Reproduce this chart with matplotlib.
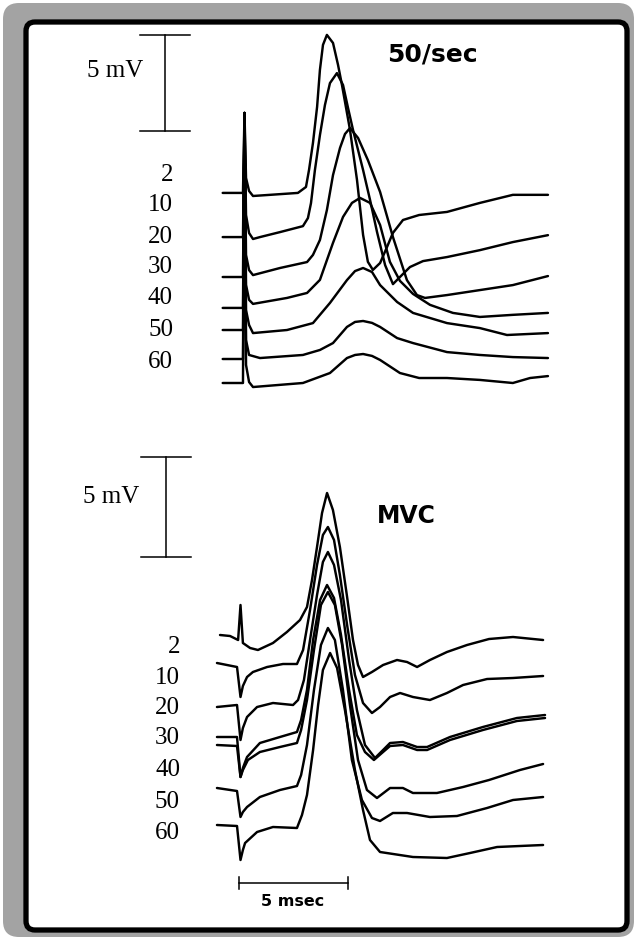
import numpy as np
import matplotlib.pyplot as plt
from matplotlib.patches import FancyBboxPatch

# ---- stimulus numbers (train position of each recorded response)
stim_labels = ["2", "10", "20", "30", "40", "50", "60"]

# ---- 50/sec train: time (ms after stimulus) and voltage (mV from own baseline)
top_t_2 = [-1.0, -0.07, 0, 0.07, 0.21, 0.39, 1.17, 2.45, 2.82, 2.96, 3.14, 3.33, 3.46, 3.60, 3.78, 4.06,
           4.29, 4.47, 4.84, 5.16, 5.44, 5.66, 5.89, 6.22, 6.54, 6.81, 7.27, 8.01, 9.29, 10.80, 12.31, 13.92]
top_mv_2 = [0, 0, 4.17, 0.78, 0.10, -0.16, -0.10, 0, 0.31, 1.20, 2.60, 4.48, 6.41, 7.71, 8.23, 7.81,
            6.67, 5.63, 3.28, 0.68, -2.19, -3.59, -4.01, -3.65, -2.81, -2.08, -1.41, -1.15, -0.99, -0.52, -0.10, -0.10]

top_t_10 = [-1.0, -0.07, 0, 0.07, 0.21, 0.39, 0.71, 1.63, 2.68, 2.91, 3.05, 3.23, 3.46, 3.69, 3.92, 4.24,
            4.52, 4.75, 4.98, 5.44, 5.76, 6.08, 6.45, 6.81, 7.13, 7.59, 8.19, 9.29, 10.80, 12.31, 13.92]
top_mv_10 = [0, 0, 6.46, 1.15, 0.21, -0.10, 0, 0.26, 0.57, 0.99, 1.77, 3.49, 5.31, 6.88, 8.02, 8.54,
             7.92, 6.72, 5.57, 3.49, 1.93, 0.26, -1.46, -2.45, -2.08, -1.56, -1.25, -1.04, -0.68, -0.26, 0.10]

top_t_20 = [-1.0, -0.07, 0, 0.07, 0.21, 0.39, 1.63, 2.87, 3.14, 3.46, 3.78, 4.06, 4.38, 4.61, 4.84, 5.21,
            5.66, 6.22, 6.81, 7.45, 7.91, 8.28, 9.29, 10.80, 12.31, 13.92]
top_mv_20 = [0, 0, 8.54, 1.15, 0.36, 0.10, 0.47, 0.78, 1.15, 1.93, 3.49, 5.31, 6.72, 7.45, 7.76, 7.24,
             6.09, 4.43, 2.08, -0.16, -0.94, -1.09, -0.94, -0.68, -0.42, 0.05]

top_t_30 = [-1.0, -0.07, 0, 0.07, 0.21, 0.39, 1.95, 2.87, 3.46, 4.06, 4.52, 4.93, 5.30, 5.76, 6.22, 6.67,
            7.13, 7.73, 8.51, 9.56, 10.80, 12.31, 13.92]
top_mv_30 = [0, 0, 10.16, 1.20, 0.42, 0.21, 0.52, 0.78, 1.46, 3.39, 4.74, 5.47, 5.73, 5.47, 4.32, 2.40,
             1.41, 0.73, 0.16, -0.26, -0.47, -0.36, -0.26]

top_t_40 = [-1.0, -0.07, 0, 0.07, 0.21, 0.39, 1.95, 3.14, 3.92, 4.70, 5.07, 5.44, 5.85, 6.22, 7.00, 7.73,
            9.29, 10.80, 12.04, 13.92]
top_mv_40 = [0, 0, 11.30, 1.04, 0.26, -0.16, 0, 0.36, 1.41, 2.60, 3.07, 3.23, 3.02, 2.34, 1.46, 0.89,
             0.36, 0.10, -0.26, -0.16]

top_t_50 = [-1.0, -0.07, 0, 0.07, 0.21, 0.71, 2.68, 3.46, 4.06, 4.70, 5.07, 5.44, 5.85, 6.22, 7.00, 7.73,
            9.29, 10.80, 12.31, 13.92]
top_mv_50 = [0, 0, 12.81, 0.99, 0.21, 0.05, 0.21, 0.47, 0.83, 1.67, 1.93, 1.98, 1.88, 1.67, 1.09, 0.83,
             0.36, 0.21, 0.10, 0.05]

top_t_60 = [-1.0, -0.07, 0, 0.07, 0.21, 0.39, 2.68, 3.92, 4.70, 5.07, 5.44, 5.85, 6.22, 7.13, 8.01, 9.29,
            10.80, 12.31, 13.10, 13.92]
top_mv_60 = [0, 0, 14.06, 0.94, 0.05, -0.21, 0, 0.52, 1.30, 1.46, 1.51, 1.41, 1.20, 0.52, 0.26, 0.26,
             0.16, 0, 0.26, 0.36]

# ---- MVC: time (ms) and voltage (mV from own baseline)
bot_t_2 = [-0.94, -0.48, -0.11, 0, 0.11, 0.44, 0.80, 1.49, 2.13, 2.73, 3.05, 3.28, 3.51, 3.74, 3.97, 4.24,
           4.56, 4.89, 5.16, 5.39, 5.62, 6.03, 6.54, 7.18, 7.64, 8.10, 8.69, 9.47, 10.39, 11.40, 12.50, 13.88]
bot_mv_2 = [0.10, 0.05, -0.15, 1.60, -0.30, -0.55, -0.65, -0.30, 0.25, 0.85, 1.50, 2.85, 4.50, 6.20, 7.20, 6.35,
            4.50, 2.00, -0.15, -1.40, -2.00, -1.75, -1.40, -1.15, -1.25, -1.50, -1.15, -0.75, -0.40, -0.10, 0, -0.15]

bot_t_10 = [-1.08, -0.16, 0, 0.11, 0.30, 0.57, 1.22, 1.95, 2.59, 2.87, 3.19, 3.51, 3.78, 4.01, 4.29, 4.56,
            4.89, 5.25, 5.62, 6.03, 6.40, 6.86, 7.32, 7.91, 8.69, 9.47, 10.21, 11.31, 12.50, 13.88]
bot_mv_10 = [0, -0.20, -1.70, -1.15, -0.70, -0.45, -0.20, -0.05, -0.05, 0.65, 2.65, 4.90, 6.40, 6.80, 6.15, 4.40,
             1.90, -0.60, -2.00, -2.50, -2.20, -1.70, -1.50, -1.70, -1.85, -1.50, -1.10, -0.80, -0.75, -0.65]

bot_t_20 = [-1.08, -0.16, 0, 0.11, 0.30, 0.76, 1.49, 2.41, 2.64, 2.91, 3.19, 3.51, 3.78, 4.01, 4.29, 4.61,
            4.98, 5.34, 5.71, 6.17, 6.54, 6.86, 7.45, 8.10, 8.56, 9.61, 11.12, 12.68, 13.97]
bot_mv_20 = [-0.10, 0, -1.75, -1.15, -0.60, -0.10, 0.10, 0, 0.25, 1.25, 3.25, 5.50, 7.15, 7.65, 7.00, 5.25,
             2.25, -0.25, -2.00, -2.65, -2.25, -1.90, -1.85, -2.10, -2.10, -1.60, -1.10, -0.65, -0.50]

bot_t_30 = [-1.08, -0.16, 0, 0.11, 0.30, 0.89, 1.81, 2.59, 2.78, 3.05, 3.33, 3.65, 3.97, 4.29, 4.61, 4.98,
            5.34, 5.71, 6.12, 6.54, 6.86, 7.45, 8.10, 8.56, 9.61, 11.12, 12.68, 13.97]
bot_mv_30 = [0, 0, -2.00, -1.55, -1.00, -0.30, 0, 0.25, 0.85, 2.35, 4.85, 6.85, 7.60, 6.95, 5.10, 2.35,
             0.10, -0.75, -1.15, -0.75, -0.45, -0.40, -0.65, -0.65, -0.15, 0.35, 0.80, 0.95]

bot_t_40 = [-1.08, -0.16, 0, 0.11, 0.34, 0.89, 1.81, 2.59, 2.78, 3.05, 3.37, 3.69, 4.01, 4.33, 4.66, 5.02,
            5.39, 5.80, 6.26, 6.86, 7.45, 7.91, 9.01, 10.21, 11.40, 12.82, 13.88]
bot_mv_40 = [0, -0.05, -1.60, -1.25, -0.75, -0.35, -0.10, 0.10, 0.75, 2.25, 4.75, 7.00, 7.65, 7.00, 5.00, 2.00,
             -0.75, -2.25, -2.65, -2.15, -2.15, -2.40, -2.40, -2.10, -1.75, -1.25, -0.95]

bot_t_50 = [-1.08, -0.16, 0, 0.11, 0.30, 0.89, 1.81, 2.59, 2.78, 3.05, 3.37, 3.69, 4.01, 4.33, 4.70, 5.11,
            5.57, 6.03, 6.40, 6.99, 7.64, 8.69, 9.93, 11.31, 12.50, 13.88]
bot_mv_50 = [0, -0.15, -1.45, -1.20, -0.95, -0.45, -0.10, 0.10, 0.65, 2.15, 4.90, 7.15, 8.00, 7.40, 4.90, 1.40,
             -0.60, -1.50, -1.65, -1.25, -1.25, -1.45, -1.40, -1.00, -0.60, -0.45]

bot_t_60 = [-1.08, -0.16, 0, 0.11, 0.21, 0.76, 1.49, 2.59, 2.82, 3.05, 3.33, 3.56, 3.78, 4.11, 4.43, 4.79,
            5.25, 5.62, 5.94, 6.40, 7.91, 9.47, 10.53, 11.77, 13.88]
bot_mv_60 = [0, -0.05, -1.75, -1.25, -0.90, -0.35, -0.10, -0.15, 0.50, 1.50, 3.75, 6.00, 7.75, 8.60, 7.85, 5.75,
             2.75, 0.75, -0.75, -1.35, -1.60, -1.65, -1.40, -1.10, -1.00]

# calibration bars
bar_mv = 5
bar_ms = 5

# ---- layout (pixels on a 637 x 940 canvas)
W, H = 637, 940
MS_PX = 21.8                      # pixels per ms, shared by both panels
top_offsets = [9.90, 7.60, 5.52, 3.91, 2.76, 1.25, 0.0]   # trace stacking, mV
bot_offsets = [9.40, 8.10, 6.00, 4.40, 4.00, 1.85, 0.0]
top_label_y = [175, 205, 237, 267, 298, 330, 362]
bot_label_y = [647, 678, 708, 738, 770, 802, 833]

fig = plt.figure(figsize=(W / 100, H / 100), dpi=100)

# mount: grey shadow, black rounded frame
bg = fig.add_axes([0, 0, 1, 1])
bg.set_xlim(0, W)
bg.set_ylim(H, 0)
bg.axis("off")
bg.add_patch(FancyBboxPatch((3, 3), W - 6, H - 6, boxstyle="round,pad=0,rounding_size=16",
                            fc="#a3a3a3", ec="none"))
bg.add_patch(FancyBboxPatch((26, 22), 601, 908, boxstyle="round,pad=0,rounding_size=9",
                            fc="white", ec="black", lw=3.8))


def panel(x0, y0, mv_px):
    # axes over the whole canvas; t=0 at x0 and 0 mV at y0 (pixels from top)
    ax = fig.add_axes([0, 0, 1, 1])
    ax.set_xlim(-x0 / MS_PX, (W - x0) / MS_PX)
    ax.set_ylim(-(H - y0) / mv_px, y0 / mv_px)
    ax.axis("off")
    ax.patch.set_alpha(0)
    return ax


ax_top = panel(244.5, 383, 19.2)
ax_bot = panel(240.5, 825, 20.0)

top_traces = [(top_t_2, top_mv_2), (top_t_10, top_mv_10), (top_t_20, top_mv_20), (top_t_30, top_mv_30),
              (top_t_40, top_mv_40), (top_t_50, top_mv_50), (top_t_60, top_mv_60)]
bot_traces = [(bot_t_2, bot_mv_2), (bot_t_10, bot_mv_10), (bot_t_20, bot_mv_20), (bot_t_30, bot_mv_30),
              (bot_t_40, bot_mv_40), (bot_t_50, bot_mv_50), (bot_t_60, bot_mv_60)]

trace_kw = dict(color="black", lw=1.75, solid_joinstyle="round", solid_capstyle="round")
for (t, v), off in zip(top_traces, top_offsets):
    ax_top.plot(t, np.array(v) + off, **trace_kw)
for (t, v), off in zip(bot_traces, bot_offsets):
    ax_bot.plot(t, np.array(v) + off, **trace_kw)

# 5 mV calibration bars
bar_kw = dict(color="black", lw=1.1)
for ax, xb, ybot, half in [(ax_top, -3.65, 13.125, 1.15), (ax_bot, -3.42, 13.4, 1.15)]:
    ax.plot([xb, xb], [ybot, ybot + bar_mv], **bar_kw)
    ax.plot([xb - half, xb + half], [ybot, ybot], **bar_kw)
    ax.plot([xb - half, xb + half], [ybot + bar_mv, ybot + bar_mv], **bar_kw)

# 5 msec bar
tb, yb = -0.07, -2.9
ax_bot.plot([tb, tb + bar_ms], [yb, yb], **bar_kw)
ax_bot.plot([tb, tb], [yb - 0.3, yb + 0.3], **bar_kw)
ax_bot.plot([tb + bar_ms, tb + bar_ms], [yb - 0.3, yb + 0.3], **bar_kw)


def ftext(x, y, s, **kw):
    fig.text(x / W, 1 - y / H, s, **kw)


serif = dict(family="Liberation Serif", fontsize=18, va="center")
for lab, y in zip(stim_labels, top_label_y):
    ftext(173, y, lab, ha="right", **serif)
for lab, y in zip(stim_labels, bot_label_y):
    ftext(180, y, lab, ha="right", **serif)

ftext(87, 71, "5 mV", ha="left", **serif)
ftext(83, 497, "5 mV", ha="left", **serif)

ftext(432, 54, "50/sec", ha="center", va="center", family="DejaVu Sans",
      fontweight="bold", fontsize=18)
ftext(406, 516, "MVC", ha="center", va="center", family="DejaVu Sans",
      fontweight="bold", fontsize=17)
ftext(293, 901, "5 msec", ha="center", va="center", family="DejaVu Sans",
      fontweight="bold", fontsize=11.5)

fig.savefig("out.png", dpi=100)
